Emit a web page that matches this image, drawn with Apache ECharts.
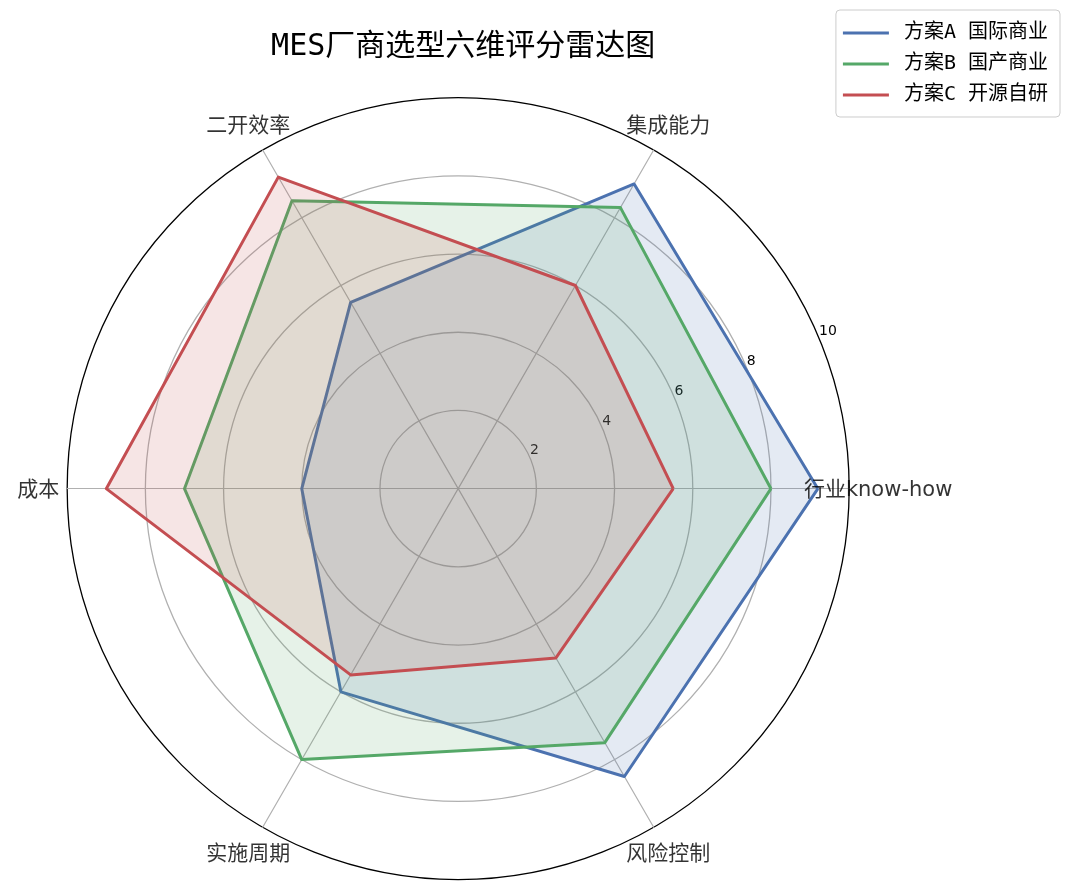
<!DOCTYPE html>
<html>
<head>
<meta charset="utf-8">
<script src="https://cdn.jsdelivr.net/npm/echarts@6/dist/echarts.min.js"></script>
<style>
    html, body { margin: 0; padding: 0; background: #fff; }
    #chart-container { width: 1073px; height: 895px; }
</style>
</head>
<body>
<div id="chart-container"></div>
<script>
// categories and scores
const indicators = ['行业know-how', '集成能力', '二开效率', '成本', '实施周期', '风险控制'];
const planNames = ['方案A 国际商业', '方案B 国产商业', '方案C 开源自研'];
const planA = [9.2, 9.0, 5.5, 4.0, 6.0, 8.5];
const planB = [8.0, 8.3, 8.5, 7.0, 8.0, 7.5];
const planC = [5.5, 6.0, 9.2, 9.0, 5.5, 5.0];
const radiusTicks = [2, 4, 6, 8, 10];
const maxScore = 10;

const colors = ['#4c72b0', '#55a868', '#c44e52'];
const monoFont = '"DejaVu Sans Mono", "Noto Sans CJK SC"';
const labelFont = '"DejaVu Sans", "Noto Sans CJK SC"';

// layout
const center = ['42.7%', '54.6%'];
const radius = 391;
const nameRadius = 10.74;
const step = 360 / indicators.length;

var dom = document.getElementById('chart-container');
var myChart = echarts.init(dom, null, { renderer: 'canvas' });

var plans = [planA, planB, planC];

var option = {
    animation: false,
    title: {
        text: 'MES厂商选型六维评分雷达图',
        left: '42.7%',
        textAlign: 'center',
        top: 27,
        textStyle: { fontFamily: monoFont, fontSize: 30, fontWeight: 'normal', color: '#000' }
    },
    legend: {
        data: planNames,
        orient: 'vertical',
        right: 13,
        top: 10,
        icon: 'rect',
        itemWidth: 46,
        itemHeight: 3,
        itemGap: 11,
        padding: [13, 12, 12, 7],
        borderColor: '#cccccc',
        borderWidth: 1,
        borderRadius: 4,
        backgroundColor: '#fff',
        textStyle: { fontFamily: monoFont, fontSize: 20, color: '#000', padding: [0, 0, 0, 10] }
    },
    radar: {
        center: center,
        radius: radius,
        startAngle: 0,
        shape: 'circle',
        splitNumber: 5,
        indicator: indicators.map(n => ({ name: n, min: 0, max: maxScore })),
        axisName: { show: false },
        axisLine: { lineStyle: { color: '#b0b0b0', width: 1.2 } },
        axisTick: { show: false },
        axisLabel: { show: false },
        splitLine: {
            lineStyle: {
                color: ['#b0b0b0', '#b0b0b0', '#b0b0b0', '#b0b0b0', '#b0b0b0', '#000000'],
                width: 1.3
            }
        },
        splitArea: { show: false }
    },
    polar: [
        { center: center, radius: radius },
        { center: center, radius: radius }
    ],
    angleAxis: [
        { polarIndex: 0, type: 'value', min: 0, max: 360, startAngle: 22.5, show: false },
        { polarIndex: 1, type: 'value', min: 0, max: 360, startAngle: 0, clockwise: false, show: false }
    ],
    radiusAxis: [
        {
            polarIndex: 0, type: 'value', min: 0, max: maxScore, interval: 2,
            axisLine: { show: false }, axisTick: { show: false }, splitLine: { show: false },
            axisLabel: {
                fontFamily: labelFont, fontSize: 14, color: '#000', margin: 1,
                align: 'left', verticalAlign: 'bottom',
                formatter: v => radiusTicks.indexOf(v) >= 0 ? String(v) : ''
            }
        },
        { polarIndex: 1, type: 'value', min: 0, max: maxScore, show: false }
    ],
    series: [
        {
            type: 'radar',
            symbol: 'none',
            data: plans.map((vals, i) => ({
                name: planNames[i],
                value: vals,
                itemStyle: { color: colors[i] },
                lineStyle: { color: colors[i], width: 3 },
                areaStyle: { color: colors[i], opacity: 0.15 }
            }))
        },
        {
            type: 'scatter',
            coordinateSystem: 'polar',
            polarIndex: 1,
            symbolSize: 1,
            silent: true,
            clip: false,
            itemStyle: { color: 'rgba(0,0,0,0)' },
            data: indicators.map((n, i) => ({ name: n, value: [nameRadius, i * step] })),
            label: {
                show: true,
                position: 'inside',
                offset: [0, 2],
                formatter: '{b}',
                fontFamily: labelFont,
                fontSize: 21,
                color: '#000',
                textBorderWidth: 0
            }
        }
    ]
};

if (option && typeof option === 'object') {
    myChart.setOption(option);
}

window.addEventListener('resize', myChart.resize);
</script>
</body>
</html>
